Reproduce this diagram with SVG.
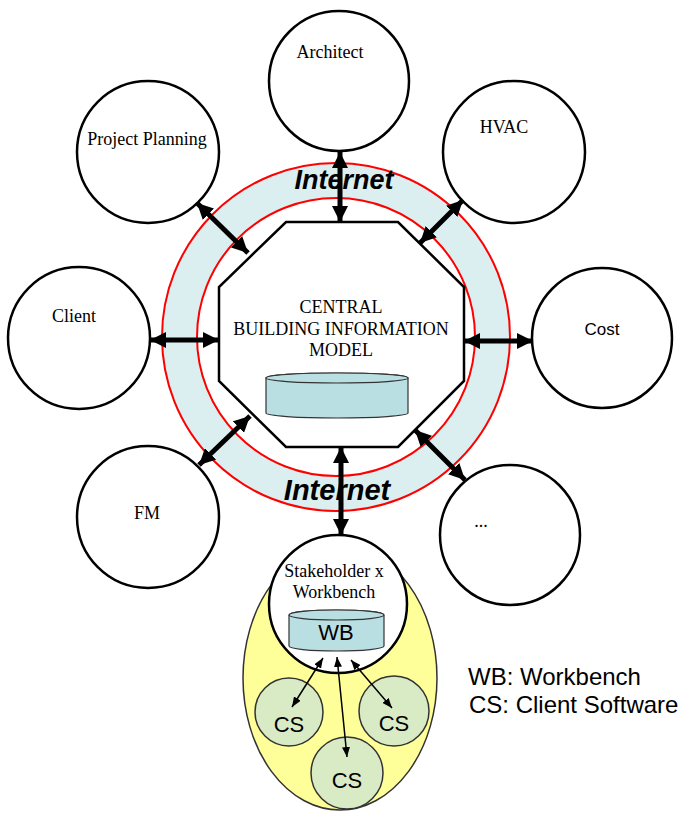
<svg xmlns="http://www.w3.org/2000/svg" width="682" height="815" viewBox="0 0 682 815">
<style>
.node{fill:#fff;stroke:#000;stroke-width:2.5}
.lbl{font-family:"Liberation Serif",serif;font-size:18px;fill:#000;text-anchor:middle}
.sans{font-family:"Liberation Sans",Arial,sans-serif;fill:#000}
.thick{stroke:#000;stroke-width:5;fill:none;marker-start:url(#hb);marker-end:url(#hb)}
.thin{stroke:#000;stroke-width:1.5;fill:none;marker-start:url(#hs);marker-end:url(#hs)}
.cyl{fill:#b9dfe3;stroke:#333;stroke-width:1.2}
.cs{fill:#d9ebc5;stroke:#333;stroke-width:1.5}
.net{font-family:"Liberation Sans",Arial,sans-serif;font-style:italic;font-weight:bold;fill:#000;text-anchor:middle}
</style>
<defs>
<marker id="hb" viewBox="0 0 16 16" refX="16" refY="8" markerWidth="16" markerHeight="16" markerUnits="userSpaceOnUse" orient="auto-start-reverse">
<path d="M0,0 L16,8 L0,16 z" fill="#000"/>
</marker>
<marker id="hs" viewBox="0 0 10 8" refX="10" refY="4" markerWidth="10" markerHeight="8" markerUnits="userSpaceOnUse" orient="auto-start-reverse">
<path d="M0,0 L10,4 L0,8 z" fill="#000"/>
</marker>
</defs>

<g id="internet-ring">
<circle cx="336" cy="337" r="156.5" fill="none" stroke="#dbeef0" stroke-width="35"/>
<circle cx="336" cy="337" r="174" fill="none" stroke="#ff0000" stroke-width="2"/>
<circle cx="336" cy="337" r="139" fill="none" stroke="#ff0000" stroke-width="2"/>
<text class="net" x="344" y="189" font-size="27">Internet</text>
<text class="net" x="337" y="500" font-size="29">Internet</text>
</g>

<g id="central-bim">
<polygon class="node" points="286,222 398,222 464,287 464,381 398,447 286,447 219,381 219,287" stroke-width="2"/>
<text class="lbl" x="341" y="313" font-size="17">CENTRAL</text>
<text class="lbl" x="341" y="335" font-size="17">BUILDING INFORMATION</text>
<text class="lbl" x="341" y="356" font-size="17">MODEL</text>
<path class="cyl" d="M266,378 L266,413 A71,5 0 0 0 408,413 L408,378 A71,5 0 0 0 266,378 Z"/>
<ellipse class="cyl" cx="337" cy="378" rx="71" ry="5"/>
</g>

<g id="architect">
<circle class="node" cx="339" cy="81" r="70"/>
<text class="lbl" x="330" y="58">Architect</text>
</g>
<g id="project-planning">
<circle class="node" cx="148" cy="152" r="71"/>
<text class="lbl" x="147" y="145">Project Planning</text>
</g>
<g id="hvac">
<circle class="node" cx="514" cy="152" r="71"/>
<text class="lbl" x="504" y="133">HVAC</text>
</g>
<g id="client">
<circle class="node" cx="79" cy="338" r="71"/>
<text class="lbl" x="74" y="322">Client</text>
</g>
<g id="cost">
<circle class="node" cx="602" cy="338" r="70"/>
<text class="sans" x="602" y="335" font-size="17" text-anchor="middle">Cost</text>
</g>
<g id="fm">
<circle class="node" cx="148" cy="517" r="71"/>
<text class="lbl" x="147" y="519">FM</text>
</g>
<g id="other">
<circle class="node" cx="510" cy="535" r="70"/>
<text class="lbl" x="481" y="527">...</text>
</g>

<g id="stakeholder">
<ellipse cx="340" cy="678" rx="97" ry="132" fill="#ffff99" stroke="#333" stroke-width="1.5"/>
<circle class="node" cx="338" cy="604" r="69"/>
<text class="lbl" x="334" y="577">Stakeholder x</text>
<text class="lbl" x="334" y="598">Workbench</text>
<path class="cyl" d="M289,615 L289,646 A47.5,5 0 0 0 384,646 L384,615 A47.5,5 0 0 0 289,615 Z"/>
<ellipse class="cyl" cx="336.5" cy="615" rx="47.5" ry="5"/>
<text class="sans" x="336" y="640" font-size="22" text-anchor="middle">WB</text>
</g>
<g id="cs-left">
<circle class="cs" cx="289" cy="712" r="34"/>
<text class="sans" x="289" y="732" font-size="22" text-anchor="middle">CS</text>
</g>
<g id="cs-right">
<circle class="cs" cx="394" cy="711" r="35"/>
<text class="sans" x="394" y="731" font-size="22" text-anchor="middle">CS</text>
</g>
<g id="cs-bottom">
<circle class="cs" cx="347" cy="773" r="36"/>
<text class="sans" x="347" y="788" font-size="22" text-anchor="middle">CS</text>
</g>

<g id="connectors">
<line class="thick" x1="340" y1="152" x2="340" y2="222"/>
<line class="thick" x1="197" y1="203" x2="248" y2="253"/>
<line class="thick" x1="463" y1="200" x2="420" y2="243"/>
<line class="thick" x1="150" y1="340" x2="219" y2="340"/>
<line class="thick" x1="464" y1="341" x2="533" y2="341"/>
<line class="thick" x1="199" y1="465" x2="250" y2="416"/>
<line class="thick" x1="415" y1="430" x2="465" y2="480"/>
<line class="thick" x1="341" y1="447" x2="341" y2="535"/>
<line class="thin" x1="323" y1="658" x2="292" y2="707"/>
<line class="thin" x1="337" y1="657" x2="347" y2="757"/>
<line class="thin" x1="351" y1="660" x2="392" y2="708"/>
</g>

<g id="legend">
<text class="sans" x="468" y="685" font-size="24">WB: Workbench</text>
<text class="sans" x="469" y="713" font-size="24">CS: Client Software</text>
</g>
</svg>
